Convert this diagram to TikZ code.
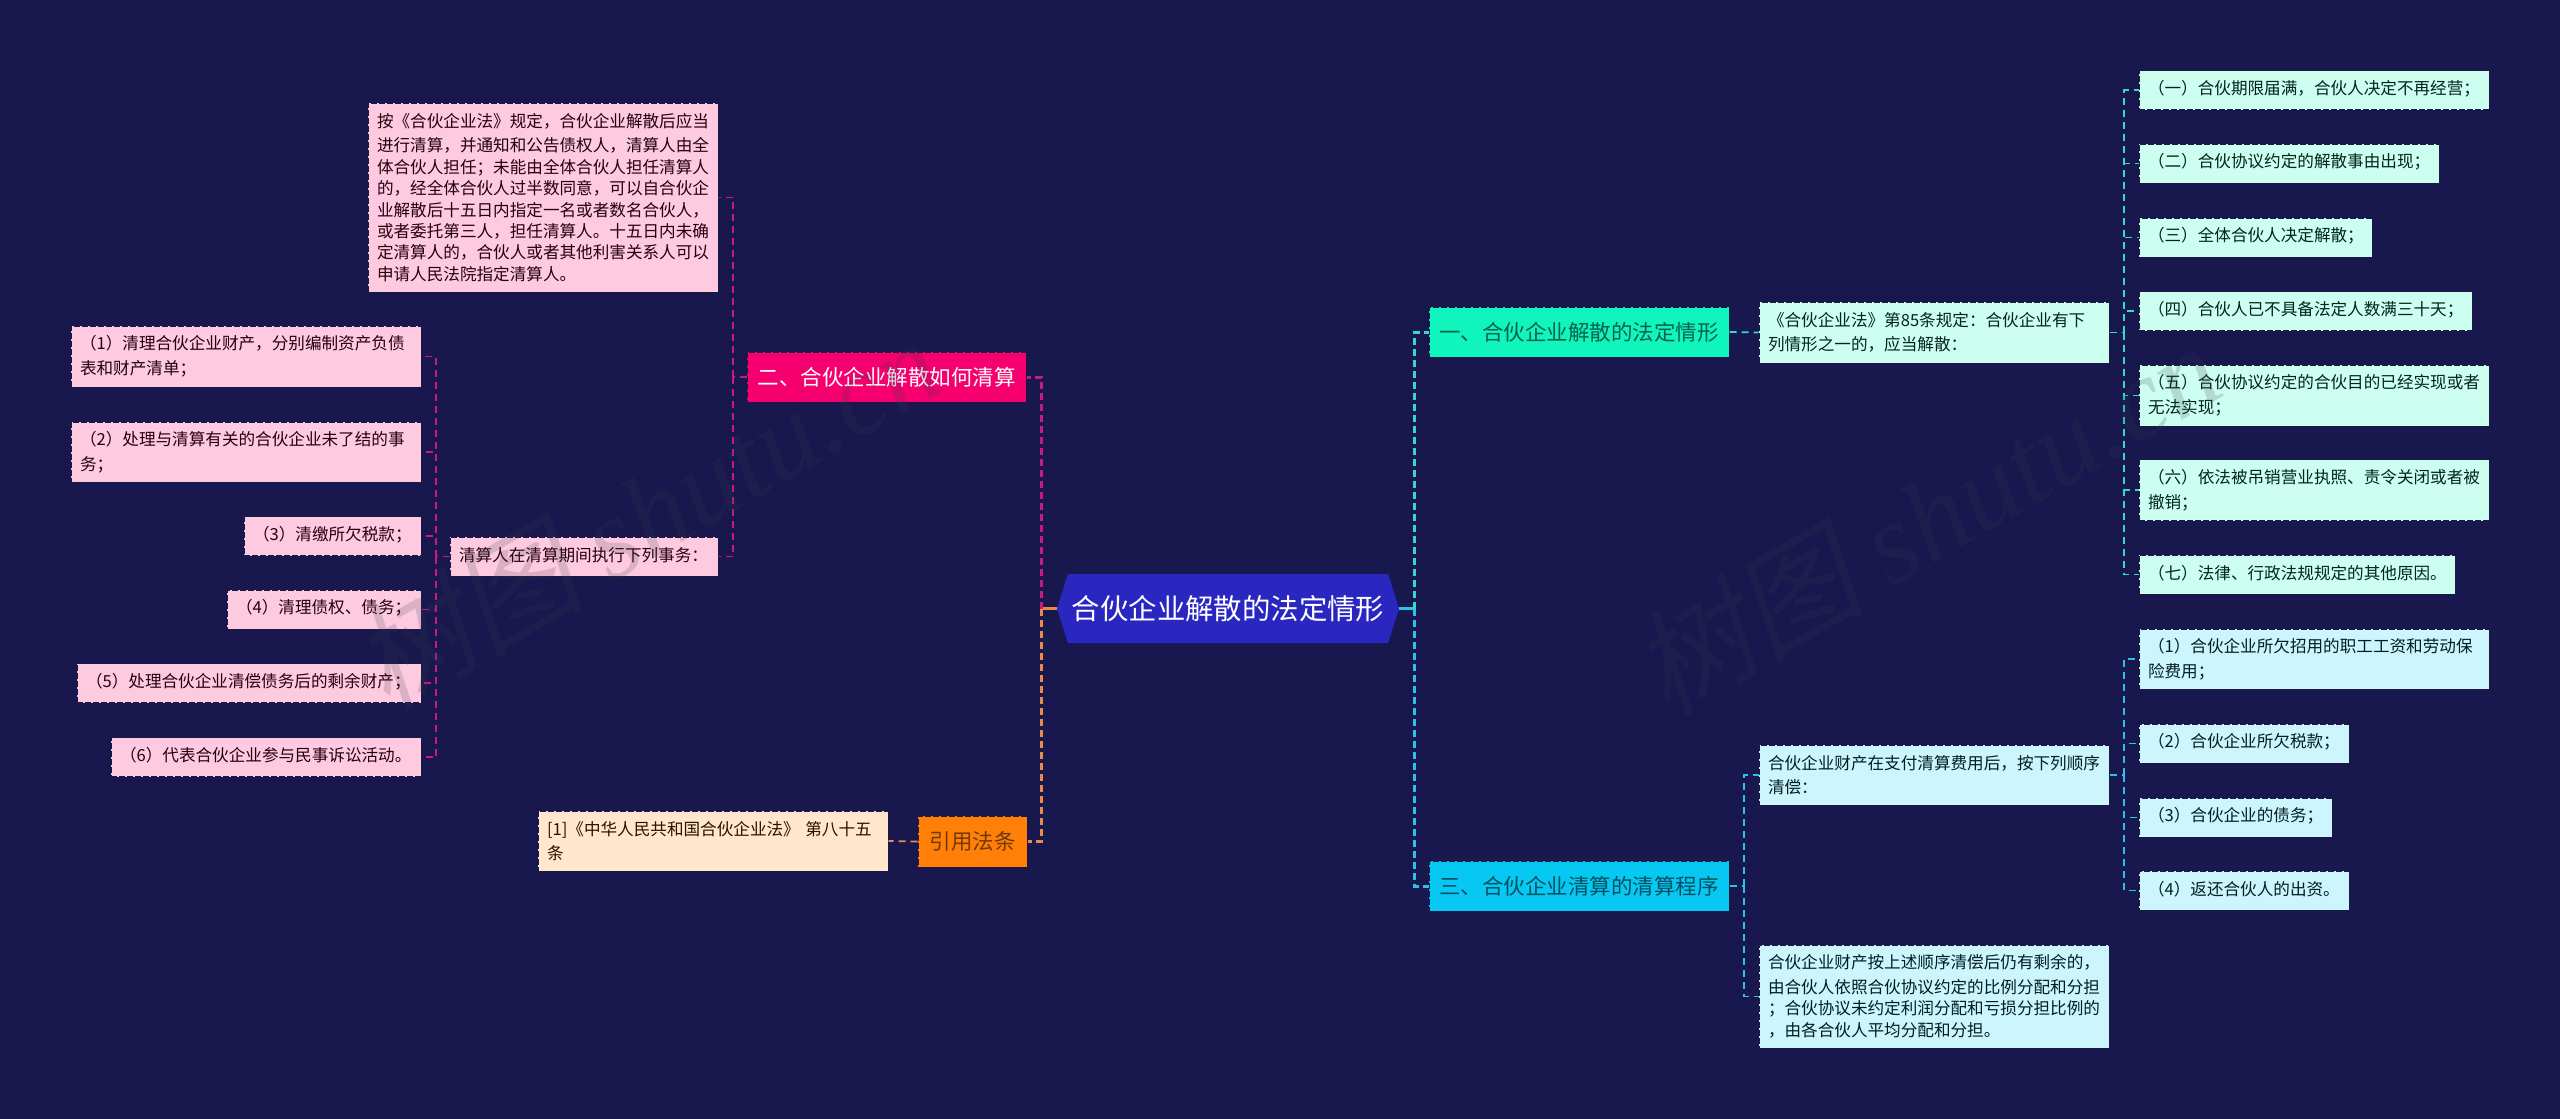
\documentclass[tikz,border=0pt]{standalone}
\usepackage{fontspec}
\setmainfont{Noto Sans CJK SC}
\newfontfamily\wmfont{Liberation Serif}
\newfontfamily\wmcjk[FakeSlant=.2]{Noto Sans CJK SC}
\usetikzlibrary{shapes.symbols}
\definecolor{bg}{HTML}{18184F}
\definecolor{rootc}{HTML}{2A27C1}
\definecolor{mintc}{HTML}{10F5BD}
\definecolor{mintl}{HTML}{CCFFF0}
\definecolor{skyc}{HTML}{06C8F2}
\definecolor{skyl}{HTML}{CDF5FD}
\definecolor{pinkc}{HTML}{F5006E}
\definecolor{pinkl}{HTML}{FDCAE0}
\definecolor{orgc}{HTML}{FF7F08}
\definecolor{orgl}{HTML}{FFE6CC}
\definecolor{wmint}{HTML}{34D8CC}
\definecolor{wsky}{HTML}{2CC2E8}
\definecolor{wpink}{HTML}{C81A80}
\definecolor{worg}{HTML}{E88A48}
\definecolor{edge}{HTML}{1A1A40}
\definecolor{wmc}{HTML}{383C48}
\tikzset{
  top/.style={shape=rectangle, draw=edge, dashed, dash pattern=on 3pt off 1pt, line width=.5pt, inner xsep=0pt, inner ysep=0pt, font=\fontsize{10.75}{13}\selectfont},
  sub/.style={shape=rectangle, draw=edge, dashed, dash pattern=on 3pt off 1pt, line width=.5pt, inner xsep=4.5pt, inner ysep=0pt, align=left, minimum height=19.5pt, font=\fontsize{8.3}{10.7}\selectfont, execute at begin node={\vspace*{1.6pt}}},
  mintb/.style={sub, fill=mintl, text=mintc!15!black},
  skyb/.style={sub, fill=skyl, text=skyc!15!black},
  pinkb/.style={sub, fill=pinkl, text=pinkc!15!black},
  wire/.style={dashed, dash pattern=on 3.5pt off 2pt, line width=1.5pt},
  twig/.style={dashed, dash pattern=on 3.5pt off 2.5pt, line width=.9pt},
  wm/.style={rotate=30, text=wmc, text opacity=.18, font=\fontsize{58}{66}\selectfont}
}
\begin{document}
\begin{tikzpicture}[x=.5pt, y=-.5pt]
    \useasboundingbox[fill=bg] (0,0) rectangle (2560,1119);

    \node at (1228,608.5) (root) [shape=signal, signal to=west and east, signal pointer angle=145, fill=rootc, text=white, inner sep=0pt, minimum width=171pt, minimum height=34.5pt, font=\fontsize{14.2}{17}\selectfont] {合伙企业解散的法定情形};

    \node at (1579,332) (one) [top, fill=mintc, text=black!60!mintc, minimum width=150pt, minimum height=25pt] {一、合伙企业解散的法定情形};
    \node at (1579,886) (three) [top, fill=skyc, text=black!60!skyc, minimum width=150pt, minimum height=25pt] {三、合伙企业清算的清算程序};
    \node at (886.5,377) (two) [top, fill=pinkc, text=white, minimum width=139.5pt, minimum height=25pt] {二、合伙企业解散如何清算};
    \node at (972.5,841.5) (law) [top, fill=orgc, text=orgc!45!black, minimum width=54.5pt, minimum height=25.5pt] {引用法条};

    \node at (1934,332.5) (m1) [mintb, text width=166pt, minimum height=30.5pt] {《合伙企业法》第85条规定：合伙企业有下\\列情形之一的，应当解散：};
    \node at (2314,90) (a1) [mintb, text width=166pt] {（一）合伙期限届满，合伙人决定不再经营；};
    \node at (2289,163.5) (a2) [mintb, text width=141pt] {（二）合伙协议约定的解散事由出现；};
    \node at (2255.5,237.5) (a3) [mintb, text width=107.5pt] {（三）全体合伙人决定解散；};
    \node at (2305.5,311) (a4) [mintb, text width=157.5pt] {（四）合伙人已不具备法定人数满三十天；};
    \node at (2314,395.5) (a5) [mintb, text width=166pt, minimum height=30.5pt] {（五）合伙协议约定的合伙目的已经实现或者\\无法实现；};
    \node at (2314,490) (a6) [mintb, text width=166pt, minimum height=30.5pt] {（六）依法被吊销营业执照、责令关闭或者被\\撤销；};
    \node at (2297,574.5) (a7) [mintb, text width=149pt] {（七）法律、行政法规规定的其他原因。};

    \node at (1934,775) (m2) [skyb, text width=166pt, minimum height=30pt] {合伙企业财产在支付清算费用后，按下列顺序\\清偿：};
    \node at (1934,996.5) (m3) [skyb, text width=166pt, minimum height=51.5pt] {合伙企业财产按上述顺序清偿后仍有剩余的，\\由合伙人依照合伙协议约定的比例分配和分担\\；合伙协议未约定利润分配和亏损分担比例的\\，由各合伙人平均分配和分担。};
    \node at (2314,659) (b1) [skyb, text width=166pt, minimum height=30pt] {（1）合伙企业所欠招用的职工工资和劳动保\\险费用；};
    \node at (2244,743.5) (b2) [skyb, text width=96pt] {（2）合伙企业所欠税款；};
    \node at (2235.5,817.5) (b3) [skyb, text width=87.5pt] {（3）合伙企业的债务；};
    \node at (2244,890.5) (b4) [skyb, text width=96pt] {（4）返还合伙人的出资。};

    \node at (543,197.5) (c1) [pinkb, text width=166pt, minimum height=94.5pt] {按《合伙企业法》规定，合伙企业解散后应当\\进行清算，并通知和公告债权人，清算人由全\\体合伙人担任；未能由全体合伙人担任清算人\\的，经全体合伙人过半数同意，可以自合伙企\\业解散后十五日内指定一名或者数名合伙人，\\或者委托第三人，担任清算人。十五日内未确\\定清算人的，合伙人或者其他利害关系人可以\\申请人民法院指定清算人。};
    \node at (584,556.5) (c2) [pinkb, text width=125pt] {清算人在清算期间执行下列事务：};
    \node at (246,356.5) (d1) [pinkb, text width=166pt, minimum height=30.5pt] {（1）清理合伙企业财产，分别编制资产负债\\表和财产清单；};
    \node at (246,452) (d2) [pinkb, text width=166pt, minimum height=30pt] {（2）处理与清算有关的合伙企业未了结的事\\务；};
    \node at (332.5,536) (d3) [pinkb, text width=79.5pt] {（3）清缴所欠税款；};
    \node at (324,609.5) (d4) [pinkb, text width=88pt] {（4）清理债权、债务；};
    \node at (249,683) (d5) [pinkb, text width=163pt] {（5）处理合伙企业清偿债务后的剩余财产；};
    \node at (266,757) (d6) [pinkb, text width=146pt] {（6）代表合伙企业参与民事诉讼活动。};

    \node at (713,841) (cite) [sub, fill=orgl, text=orgc!15!black, text width=166pt, minimum height=30pt] {[1]《中华人民共和国合伙企业法》 第八十五\\条};

    \coordinate (rR) at (1414,608.5);
    \coordinate (rL) at (1041,608.5);
    \coordinate (tA) at (2124,332.5);
    \coordinate (tB) at (2124,775);
    \coordinate (tC) at (1744,886);
    \coordinate (tD) at (733,377);
    \coordinate (tE) at (436,556.5);

    \draw[wsky, line width=1.5pt] (root.east) -- (rR);
    \draw[worg, line width=1.5pt] (root.west) -- (rL);
    \draw[wire, wmint] (rR) |- (one.west);
    \draw[wire, wsky] (rR) |- (three.west);
    \draw[wire, wpink] (rL) |- (two.east);
    \draw[wire, worg] (rL) |- (law.east);

    \draw[twig, wmint] (one.east) -- (m1.west);
    \draw[twig, wmint] (m1.east) -- (tA);
    \draw[twig, wmint] (tA) |- (a1.west);
    \draw[twig, wmint] (tA) |- (a2.west);
    \draw[twig, wmint] (tA) |- (a3.west);
    \draw[twig, wmint] (tA) |- (a4.west);
    \draw[twig, wmint] (tA) |- (a5.west);
    \draw[twig, wmint] (tA) |- (a6.west);
    \draw[twig, wmint] (tA) |- (a7.west);

    \draw[twig, wsky] (three.east) -- (tC);
    \draw[twig, wsky] (tC) |- (m2.west);
    \draw[twig, wsky] (tC) |- (m3.west);
    \draw[twig, wsky] (m2.east) -- (tB);
    \draw[twig, wsky] (tB) |- (b1.west);
    \draw[twig, wsky] (tB) |- (b2.west);
    \draw[twig, wsky] (tB) |- (b3.west);
    \draw[twig, wsky] (tB) |- (b4.west);

    \draw[twig, wpink] (two.west) -- (tD);
    \draw[twig, wpink] (tD) |- (c1.east);
    \draw[twig, wpink] (tD) |- (c2.east);
    \draw[twig, wpink] (c2.west) -- (tE);
    \draw[twig, wpink] (tE) |- (d1.east);
    \draw[twig, wpink] (tE) |- (d2.east);
    \draw[twig, wpink] (tE) |- (d3.east);
    \draw[twig, wpink] (tE) |- (d4.east);
    \draw[twig, wpink] (tE) |- (d5.east);
    \draw[twig, wpink] (tE) |- (d6.east);

    \draw[twig, worg] (law.west) -- (cite.east);

    \node at (646,512) (wmL) [wm] {{\wmcjk 树图} {\wmfont\itshape shutu.cn}};
    \node at (1926,517) (wmR) [wm] {{\wmcjk 树图} {\wmfont\itshape shutu.cn}};
  \end{tikzpicture}
\end{document}
